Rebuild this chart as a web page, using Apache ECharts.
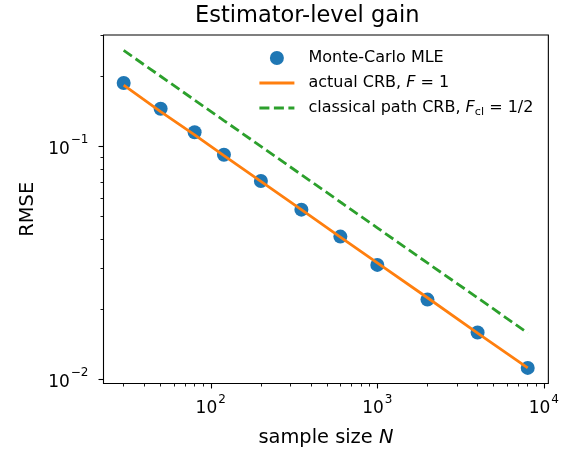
<!DOCTYPE html>
<html>
<head>
<meta charset="utf-8">
<script src="https://cdn.jsdelivr.net/npm/echarts@6/dist/echarts.min.js"></script>
<style>
  html, body { margin: 0; padding: 0; background: #fff; }
  #chart { width: 562px; height: 454px; }
</style>
</head>
<body>
<div id="chart"></div>
<script>
// values (log-log plot)
const sampleSizes = [30, 50, 80, 120, 200, 350, 600, 1000, 2000, 4000, 8000];
const rmseMle = [0.187, 0.145, 0.115, 0.092, 0.071, 0.0535, 0.041, 0.031, 0.022, 0.0159, 0.0112];
const crbActual = [0.183, 0.141, 0.112, 0.0913, 0.0707, 0.0535, 0.0408, 0.0316, 0.0224, 0.0158, 0.0112];
const crbClassical = [0.258, 0.2, 0.158, 0.129, 0.1, 0.0756, 0.0577, 0.0447, 0.0316, 0.0224, 0.0158];

const xMajorTicks = [100, 1000, 10000];
const xMinorTicks = [30, 40, 50, 60, 70, 80, 90, 200, 300, 400, 500, 600, 700, 800, 900,
  2000, 3000, 4000, 5000, 6000, 7000, 8000, 9000];
const yMajorTicks = [0.01, 0.1];
const yMinorTicks = [0.02, 0.03, 0.04, 0.05, 0.06, 0.07, 0.08, 0.09, 0.2, 0.3];

// axis limits (sample size / RMSE)
const xRange = [22.7, 10640];
const yRange = [0.0096, 0.3006];

const FONT = 'DejaVu Sans';
const lg = v => Math.log10(v);
const pairs = vals => sampleSizes.map((n, i) => [lg(n), lg(vals[i])]);

function powLabel(v) {
  const e = Math.round(v);
  return '{b|10}{s|' + String(e).replace('-', '\u2212') + '}';
}
const powRich = {
  b: { fontFamily: FONT, fontSize: 17, color: '#000', lineHeight: 24, verticalAlign: 'bottom' },
  s: { fontFamily: FONT, fontSize: 12, color: '#000', lineHeight: 15, verticalAlign: 'top', padding: [0, 0, 0, 1] }
};

const chart = echarts.init(document.getElementById('chart'), null, { renderer: 'canvas' });

const option = {
  backgroundColor: '#fff',
  animation: false,
  title: {
    text: 'Estimator-level gain',
    left: 190,
    top: 0,
    textStyle: { fontFamily: FONT, fontSize: 22.5, fontWeight: 'normal', color: '#000' }
  },
  legend: {
    orient: 'vertical',
    left: 258,
    top: 48,
    padding: 0,
    itemWidth: 35,
    itemHeight: 14,
    itemGap: 5,
    data: [
      { name: 'mle', icon: 'circle' },
      { name: 'crb', itemStyle: { opacity: 0 }, lineStyle: { width: 2.8 } },
      { name: 'cl', itemStyle: { opacity: 0 }, lineStyle: { width: 2.8, type: [10, 4.5] } }
    ],
    formatter: function (name) {
      if (name === 'mle') return '{t|Monte-Carlo MLE}';
      if (name === 'crb') return '{t|actual CRB, }{i|F}{t| = 1}';
      return '{t|classical path CRB, }{i|F}{sub|cl}{t| = 1/2}';
    },
    textStyle: {
      fontFamily: FONT,
      fontSize: 16,
      color: '#000',
      lineHeight: 20,
      padding: [0, 0, 0, 9],
      rich: {
        t: { fontFamily: FONT, fontSize: 16, color: '#000', lineHeight: 20 },
        i: { fontFamily: FONT, fontSize: 16, fontStyle: 'italic', color: '#000', lineHeight: 20 },
        sub: { fontFamily: FONT, fontSize: 11.2, color: '#000', lineHeight: 11, verticalAlign: 'bottom' }
      }
    }
  },
  grid: {
    left: 103.5,
    right: 12,
    top: 35,
    bottom: 70.5,
    show: true,
    borderColor: '#000',
    borderWidth: 1.1,
    backgroundColor: 'transparent'
  },
  xAxis: [
    {
      type: 'value',
      min: lg(xRange[0]),
      max: lg(xRange[1]),
      position: 'bottom',
      axisLine: { show: false },
      splitLine: { show: false },
      axisTick: { show: true, length: 5, lineStyle: { color: '#000', width: 1.1 }, customValues: xMajorTicks.map(lg) },
      axisLabel: { margin: 10, fontFamily: FONT, fontSize: 17, formatter: powLabel, rich: powRich, customValues: xMajorTicks.map(lg) },
      name: 'sample size {i|N}',
      nameLocation: 'middle',
      nameGap: 45,
      nameTextStyle: {
        fontFamily: FONT, fontSize: 19.4, color: '#000',
        rich: { i: { fontFamily: FONT, fontSize: 19.4, fontStyle: 'italic', color: '#000' } }
      }
    },
    {
      type: 'value',
      min: lg(xRange[0]),
      max: lg(xRange[1]),
      position: 'bottom',
      axisLine: { show: false },
      splitLine: { show: false },
      axisLabel: { show: false },
      axisTick: { show: true, length: 3, lineStyle: { color: '#000', width: 0.9 }, customValues: xMinorTicks.map(lg) }
    }
  ],
  yAxis: [
    {
      type: 'value',
      min: lg(yRange[0]),
      max: lg(yRange[1]),
      position: 'left',
      axisLine: { show: false },
      splitLine: { show: false },
      axisTick: { show: true, length: 5, lineStyle: { color: '#000', width: 1.1 }, customValues: yMajorTicks.map(lg) },
      axisLabel: { margin: 15, fontFamily: FONT, fontSize: 17, formatter: powLabel, rich: powRich, customValues: yMajorTicks.map(lg) },
      name: 'RMSE',
      nameLocation: 'middle',
      nameGap: 65,
      nameTextStyle: { fontFamily: FONT, fontSize: 19.4, color: '#000' }
    },
    {
      type: 'value',
      min: lg(yRange[0]),
      max: lg(yRange[1]),
      position: 'left',
      axisLine: { show: false },
      splitLine: { show: false },
      axisLabel: { show: false },
      axisTick: { show: true, length: 3, lineStyle: { color: '#000', width: 0.9 }, customValues: yMinorTicks.map(lg) }
    }
  ],
  series: [
    {
      name: 'mle',
      type: 'scatter',
      data: pairs(rmseMle),
      symbol: 'circle',
      symbolSize: 14,
      itemStyle: { color: '#1f77b4', opacity: 1 },
      z: 2
    },
    {
      name: 'crb',
      type: 'line',
      data: pairs(crbActual),
      symbol: 'none',
      lineStyle: { color: '#ff7f0e', width: 2.8 },
      itemStyle: { color: '#ff7f0e' },
      z: 3
    },
    {
      name: 'cl',
      type: 'line',
      data: pairs(crbClassical),
      symbol: 'none',
      lineStyle: { color: '#2ca02c', width: 2.8, type: [10, 4.5] },
      itemStyle: { color: '#2ca02c' },
      z: 3
    }
  ]
};

chart.setOption(option);
</script>
</body>
</html>
